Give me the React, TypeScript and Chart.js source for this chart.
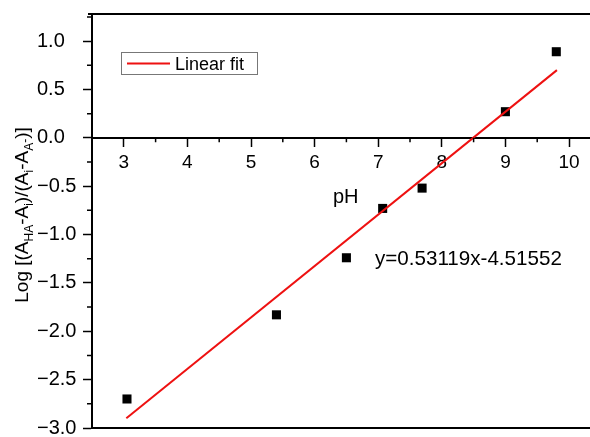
import React, { useEffect, useRef } from "react";
import { Chart, registerables } from "chart.js";

Chart.register(...registerables);

const phValues = [3.05, 5.4, 6.5, 7.07, 7.69, 9.0, 9.8];
const logRatioValues = [-2.7, -1.83, -1.24, -0.73, -0.52, 0.27, 0.89];
const fitX = [3.04, 9.81];
const fitY = [-2.9, 0.7];
const xTickValues = [3, 4, 5, 6, 7, 8, 9, 10];
const xMinorValues = [3.5, 4.5, 5.5, 6.5, 7.5, 8.5, 9.5];
const yTickValues = [-3.0, -2.5, -2.0, -1.5, -1.0, -0.5, 0.0, 0.5, 1.0];
const yMinorValues = [-2.75, -2.25, -1.75, -1.25, -0.75, -0.25, 0.25, 0.75, 1.25];
const fitLabel = "Linear fit";
const equationText = "y=0.53119x-4.51552";
const xAxisTitle = "pH";
const yTitleParts: [string, string][] = [
  ["Log [(A", "main"],
  ["HA", "sub"],
  ["-A", "main"],
  ["i", "sub"],
  [")/(A", "main"],
  ["i", "sub"],
  ["-A", "main"],
  ["A", "sub"],
  ["-", "sub2"],
  [")]", "main"],
];

const FONT = "'Liberation Sans', Arial, sans-serif";

const decorPlugin = {
  id: "decor",
  afterDraw(chart: any) {
    const ctx = chart.ctx as CanvasRenderingContext2D;
    const { left, right, top, bottom } = chart.chartArea;
    const xs = chart.scales.x;
    const ys = chart.scales.y;
    const y0 = ys.getPixelForValue(0);
    ctx.save();
    ctx.strokeStyle = "#000";
    // frame lines top and bottom
    ctx.lineWidth = 2;
    ctx.beginPath();
    ctx.moveTo(left - 4, top);
    ctx.lineTo(chart.width, top);
    ctx.moveTo(left, bottom);
    ctx.lineTo(chart.width, bottom);
    ctx.stroke();
    // minor ticks
    ctx.lineWidth = 1.5;
    ctx.beginPath();
    yMinorValues.forEach((v) => {
      const p = ys.getPixelForValue(v);
      if (p >= top - 1 && p <= bottom + 1) {
        ctx.moveTo(left - 5, p);
        ctx.lineTo(left, p);
      }
    });
    xMinorValues.forEach((v) => {
      const p = xs.getPixelForValue(v);
      ctx.moveTo(p, y0);
      ctx.lineTo(p, y0 + 4.5);
    });
    ctx.stroke();

    // legend box
    const bx = left + 29;
    const by = top + 38;
    ctx.lineWidth = 1;
    ctx.strokeStyle = "#777";
    ctx.strokeRect(bx + 0.5, by + 0.5, 136, 22);
    ctx.strokeStyle = "#ee1111";
    ctx.lineWidth = 2;
    ctx.beginPath();
    ctx.moveTo(bx + 6, by + 11.5);
    ctx.lineTo(bx + 49, by + 11.5);
    ctx.stroke();
    ctx.fillStyle = "#000";
    ctx.font = `18px ${FONT}`;
    ctx.textBaseline = "alphabetic";
    ctx.textAlign = "left";
    ctx.fillText(fitLabel, bx + 54, by + 18);

    // equation and pH
    ctx.font = `20.6px ${FONT}`;
    ctx.fillText(equationText, left + 283, 265);
    ctx.font = `20px ${FONT}`;
    ctx.fillText(xAxisTitle, left + 241, 203);

    // y axis title
    const mainFont = `19px ${FONT}`;
    const subFont = `12px ${FONT}`;
    let total = 0;
    yTitleParts.forEach(([t, k]) => {
      ctx.font = k === "main" ? mainFont : subFont;
      total += ctx.measureText(t).width;
    });
    ctx.translate(28, (top + bottom) / 2 - 6);
    ctx.rotate(-Math.PI / 2);
    let cx = -total / 2;
    yTitleParts.forEach(([t, k]) => {
      ctx.font = k === "main" ? mainFont : subFont;
      const dy = k === "main" ? 0 : k === "sub" ? 5 : 1;
      ctx.fillText(t, cx, dy);
      cx += ctx.measureText(t).width;
    });
    ctx.restore();
  },
};

export default function App() {
  const ref = useRef<HTMLCanvasElement>(null);
  useEffect(() => {
    document.body.style.margin = "0";
    const canvas = ref.current;
    if (!canvas) return;
    const chart = new Chart(canvas, {
      type: "scatter",
      data: {
        datasets: [
          {
            label: fitLabel,
            data: fitX.map((x, i) => ({ x, y: fitY[i] })),
            showLine: true,
            borderColor: "#ee1111",
            borderWidth: 2,
            pointRadius: 0,
            fill: false,
          } as any,
          {
            label: "data",
            data: phValues.map((x, i) => ({ x, y: logRatioValues[i] })),
            pointStyle: "rect",
            pointRadius: 6.4,
            backgroundColor: "#000",
            borderColor: "#000",
            borderWidth: 0,
          },
        ],
      },
      options: {
        responsive: false,
        animation: false,
        events: [],
        layout: { autoPadding: false, padding: { left: 37, top: 14, right: 0, bottom: 9 } },
        plugins: { legend: { display: false }, tooltip: { enabled: false } },
        scales: {
          x: {
            type: "linear",
            min: 2.5,
            max: 10.33,
            position: { y: 0 } as any,
            border: { color: "#000", width: 2 },
            grid: {
              drawOnChartArea: false,
              drawTicks: true,
              tickLength: 8,
              tickColor: "#000",
              tickWidth: 1.5,
            },
            afterBuildTicks: (s: any) => {
              s.ticks = xTickValues.map((v) => ({ value: v }));
            },
            afterFit: (s: any) => {
              s.paddingLeft = 0;
              s.paddingRight = 0;
              s.paddingTop = 0;
              s.paddingBottom = 0;
            },
            ticks: {
              color: "#000",
              font: { family: FONT, size: 19 },
              padding: 6,
              maxRotation: 0,
              autoSkip: false,
              callback: (v: any) => String(v),
            },
          },
          y: {
            type: "linear",
            min: -3,
            max: 1.28,
            position: "left",
            border: { color: "#000", width: 2 },
            grid: {
              drawOnChartArea: false,
              drawTicks: true,
              tickLength: 9,
              tickColor: "#000",
              tickWidth: 1.5,
            },
            afterBuildTicks: (s: any) => {
              s.ticks = yTickValues.map((v) => ({ value: v }));
            },
            afterFit: (s: any) => {
              s.width = 55;
              s.paddingTop = 0;
              s.paddingBottom = 0;
            },
            ticks: {
              color: "#000",
              font: { family: FONT, size: 20 },
              crossAlign: "far",
              padding: 5,
              autoSkip: false,
              callback: (v: any) => Number(v).toFixed(1).replace("-", "\u2212"),
            },
          },
        },
      },
      plugins: [decorPlugin],
    });
    return () => chart.destroy();
  }, []);
  return <canvas ref={ref} width={590} height={437} style={{ display: "block" }} />;
}
